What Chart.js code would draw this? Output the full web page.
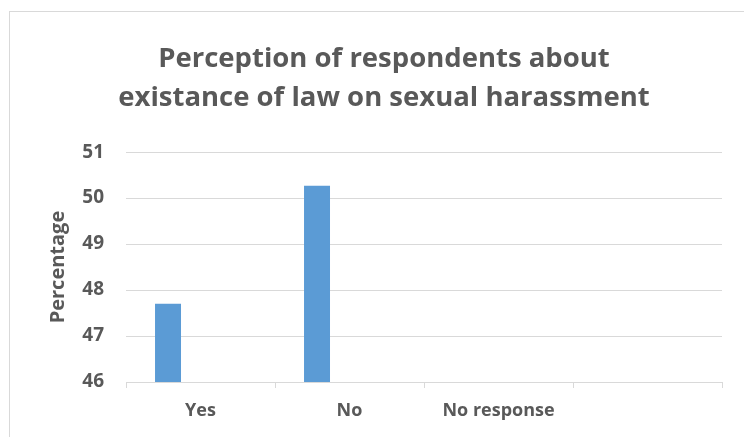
<!DOCTYPE html>
<html>
<head>
<meta charset="utf-8">
<script src="https://cdn.jsdelivr.net/npm/chart.js@4/dist/chart.umd.min.js"></script>
<style>
    html, body { margin: 0; padding: 0; background: #fff; overflow: hidden; }
    #wrap { position: relative; width: 744px; height: 437px; }
    #frame { position: absolute; left: 9px; top: 11px; width: 800px; height: 500px; border: 1px solid #d9d9d9; box-sizing: border-box; }
    canvas { position: absolute; left: 0; top: 0; }
</style>
</head>
<body>
<div id="wrap">
    <div id="frame"></div>
    <canvas id="chart" width="744" height="437"></canvas>
</div>
<script>
// Chart data
const categories = ["Yes", "No", "No response", ""];
const percentages = [47.7, 50.27, null, null];
const emptySeries = [null, null, null, null];
const yTicks = [46, 47, 48, 49, 50, 51];

const textColor = "#595959";
const gridColor = "#d9d9d9";
const fontFamily = "'Open Sans', 'Liberation Sans', sans-serif";

document.addEventListener("DOMContentLoaded", function () {
    let ctx = document.getElementById("chart").getContext("2d");
    new Chart(ctx, {
        type: "bar",
        data: {
            labels: categories,
            datasets: [{
                label: "Percentage",
                data: percentages,
                backgroundColor: "#5b9bd5",
                borderWidth: 0,
                categoryPercentage: 0.872,
                barPercentage: 0.4
            }, {
                label: "",
                data: emptySeries,
                backgroundColor: "#ed7d31",
                categoryPercentage: 0.872,
                barPercentage: 0.4
            }]
        },
        options: {
            responsive: false,
            animation: false,
            layout: { padding: { left: 46, right: 22, top: 0, bottom: 0 } },
            plugins: {
                legend: { display: false },
                tooltip: { enabled: false },
                title: {
                    display: true,
                    text: ["Perception of respondents about", "existance of law on sexual harassment"],
                    color: textColor,
                    font: { family: fontFamily, size: 27.5, weight: "bold", lineHeight: 1.42 },
                    padding: { top: 40, bottom: 34 }
                }
            },
            scales: {
                y: {
                    min: 46,
                    max: 51,
                    afterBuildTicks: function (scale) {
                        scale.ticks = yTicks.map(v => ({ value: v }));
                    },
                    afterFit: function (scale) { scale.width = 80; },
                    border: { display: false },
                    grid: { color: gridColor, lineWidth: 1, drawTicks: false },
                    ticks: {
                        color: textColor,
                        padding: 22,
                        font: { family: fontFamily, size: 19, weight: "bold" }
                    },
                    title: {
                        display: true,
                        text: "Percentage",
                        color: textColor,
                        padding: 0,
                        font: { family: fontFamily, size: 20, weight: "bold", lineHeight: 1.2 }
                    }
                },
                x: {
                    afterFit: function (scale) { scale.height = 55; },
                    border: { color: gridColor, width: 1 },
                    grid: { color: gridColor, drawOnChartArea: false, tickLength: 6, offset: true },
                    ticks: {
                        color: textColor,
                        padding: 12,
                        font: { family: fontFamily, size: 18, weight: "bold" }
                    }
                }
            }
        }
    });
});
</script>
</body>
</html>
